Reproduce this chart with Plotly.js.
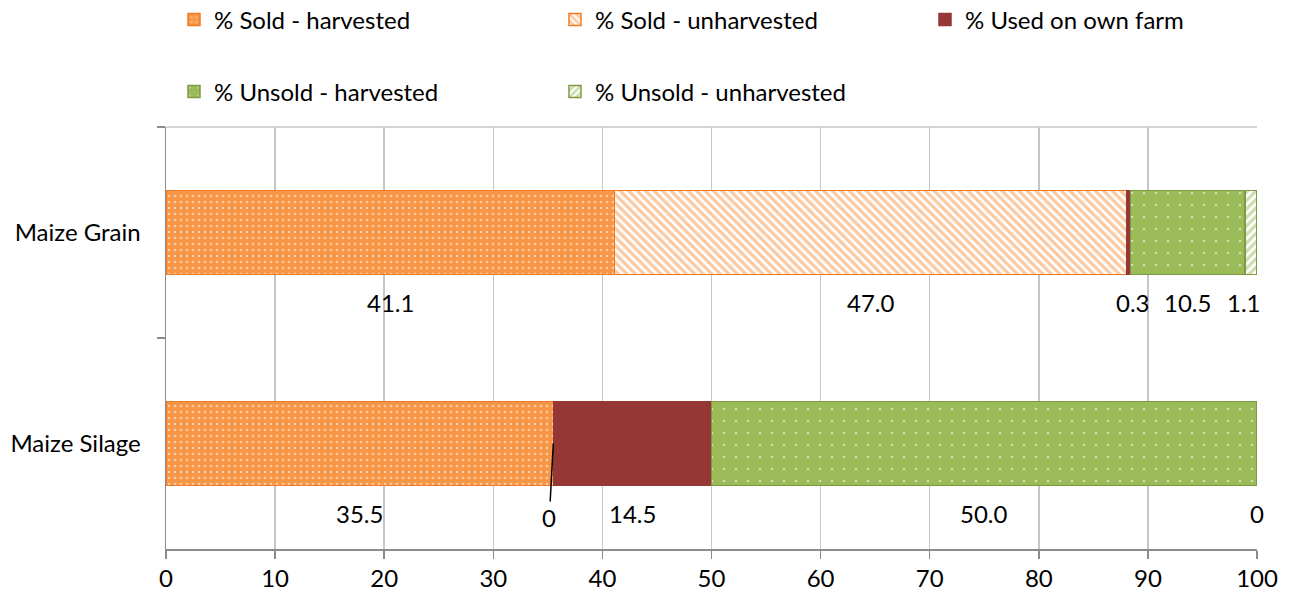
<!DOCTYPE html>
<html>
<head>
<meta charset="utf-8">
<script src="https://cdn.plot.ly/plotly-3.0.1.min.js"></script>
<style>html,body{margin:0;padding:0;background:#fff;}#chart{width:1292px;height:599px;}</style>
</head>
<body>
<div id="chart"></div>
<script>
const categories = ['Maize Grain', 'Maize Silage'];
const seriesNames = ['% Sold - harvested', '% Sold - unharvested', '% Used on own farm', '% Unsold - harvested', '% Unsold - unharvested'];
const soldHarvested = [41.1, 35.5];
const soldUnharvested = [47.0, 0];
const usedOnFarm = [0.3, 14.5];
const unsoldHarvested = [10.5, 50.0];
const unsoldUnharvested = [1.1, 0];
const labelText = [
  ['41.1', '47.0', '0.3', '10.5', '1.1'],
  ['35.5', '0', '14.5', '50.0', '0']
];
const xTicks = [0, 10, 20, 30, 40, 50, 60, 70, 80, 90, 100];

const FONT = 'Lato, "Open Sans", sans-serif';
const FS = 24;
const orange = '#F79646', orangeDark = '#F07B22', red = '#953735', green = '#9BBB59', greenDark = '#7E9A44';

const seriesValues = [soldHarvested, soldUnharvested, usedOnFarm, unsoldHarvested, unsoldUnharvested];
const styles = [
  {color: orange, line: orangeDark, pattern: {shape: '.', fgcolor: '#FFFFFF', bgcolor: orange, size: 6, solidity: 0.15, fillmode: 'overlay'}},
  {color: '#FFFFFF', line: orangeDark, pattern: {shape: '\\', fgcolor: orange, bgcolor: '#FFFFFF', size: 6, solidity: 0.55, fillmode: 'overlay'}},
  {color: red, line: red, pattern: null},
  {color: green, line: greenDark, pattern: {shape: '.', fgcolor: '#FFFFFF', bgcolor: green, size: 12, solidity: 0.04, fillmode: 'overlay'}},
  {color: '#FFFFFF', line: greenDark, pattern: {shape: '/', fgcolor: green, bgcolor: '#FFFFFF', size: 6, solidity: 0.55, fillmode: 'overlay'}}
];
const legendOf = ['legend', 'legend', 'legend3', 'legend2', 'legend2'];

const traces = seriesValues.map((vals, i) => {
  const m = {color: styles[i].color, line: {color: styles[i].line, width: 1.5}};
  if (styles[i].pattern) m.pattern = styles[i].pattern;
  return {
    type: 'bar', orientation: 'h', name: seriesNames[i],
    x: vals, y: categories, marker: m,
    hoverinfo: 'x+name',
    legend: legendOf[i]
  };
});

// data labels under each segment, centred on segment
const annotations = [];
const labelX = [
  [null, null, null, null, 98.8],
  [null, null, null, null, 100]
];
categories.forEach((cat, ci) => {
  let cum = 0;
  seriesValues.forEach((vals, si) => {
    const v = vals[ci];
    const center = labelX[ci][si] !== null ? labelX[ci][si] : cum + v / 2;
    const ann = {
      x: center, y: cat, xref: 'x', yref: 'y',
      text: labelText[ci][si], showarrow: false, yshift: -70,
      font: {family: FONT, size: FS, color: '#000'}
    };
    if (ci === 1 && si === 1) {
      ann.x = cum; ann.yshift = 0;
      ann.showarrow = true; ann.arrowhead = 0; ann.arrowwidth = 1.5; ann.arrowcolor = '#000';
      ann.ax = -4; ann.ay = 74; ann.standoff = 0; ann.startstandoff = 0;
    }
    if (ci === 0 && si === 2) ann.xshift = 4;
    annotations.push(ann);
    cum += v;
  });
});

function legendBox(x, y) {
  return {orientation: 'h', x: x, xanchor: 'left', y: y, yanchor: 'middle', xref: 'container', yref: 'container',
          entrywidth: 336, entrywidthmode: 'pixels', font: {family: FONT, size: FS, color: '#000'},
          itemwidth: 30, traceorder: 'normal', bgcolor: 'rgba(0,0,0,0)'};
}

const layout = {
  width: 1292, height: 599,
  margin: {l: 166, r: 35, t: 127, b: 50},
  paper_bgcolor: '#FFFFFF', plot_bgcolor: '#FFFFFF',
  barmode: 'stack', bargap: 0.6,
  font: {family: FONT, size: FS, color: '#000'},
  showlegend: true,
  legend: legendBox(174 / 1292, 1 - 20 / 599),
  legend2: legendBox(174 / 1292, 1 - 92 / 599),
  legend3: legendBox(925 / 1292, 1 - 20 / 599),
  xaxis: {
    range: [0, 100], tickvals: xTicks, ticktext: xTicks.map(String),
    showgrid: true, gridcolor: '#C6C6C6', gridwidth: 1.5,
    showline: true, linecolor: '#8C8C8C', linewidth: 1.5,
    ticks: 'outside', ticklen: 8, tickcolor: '#8C8C8C', tickwidth: 1.5,
    zeroline: false, tickfont: {family: FONT, size: FS, color: '#000'}, fixedrange: true
  },
  yaxis: {
    type: 'category', autorange: 'reversed', tickson: 'boundaries',
    showgrid: false, showline: true, linecolor: '#8C8C8C', linewidth: 1.5,
    ticks: 'outside', ticklen: 8, tickcolor: '#8C8C8C', tickwidth: 1.5,
    ticklabelstandoff: 19,
    tickfont: {family: FONT, size: FS, color: '#000'}, fixedrange: true
  },
  shapes: [{type: 'line', xref: 'paper', yref: 'paper', x0: 0, x1: 1, y0: 1, y1: 1, line: {color: '#C6C6C6', width: 1.5}, layer: 'below'}],
  annotations: annotations
};

Plotly.newPlot('chart', traces, layout, {displayModeBar: false, staticPlot: true});
</script>
</body>
</html>
